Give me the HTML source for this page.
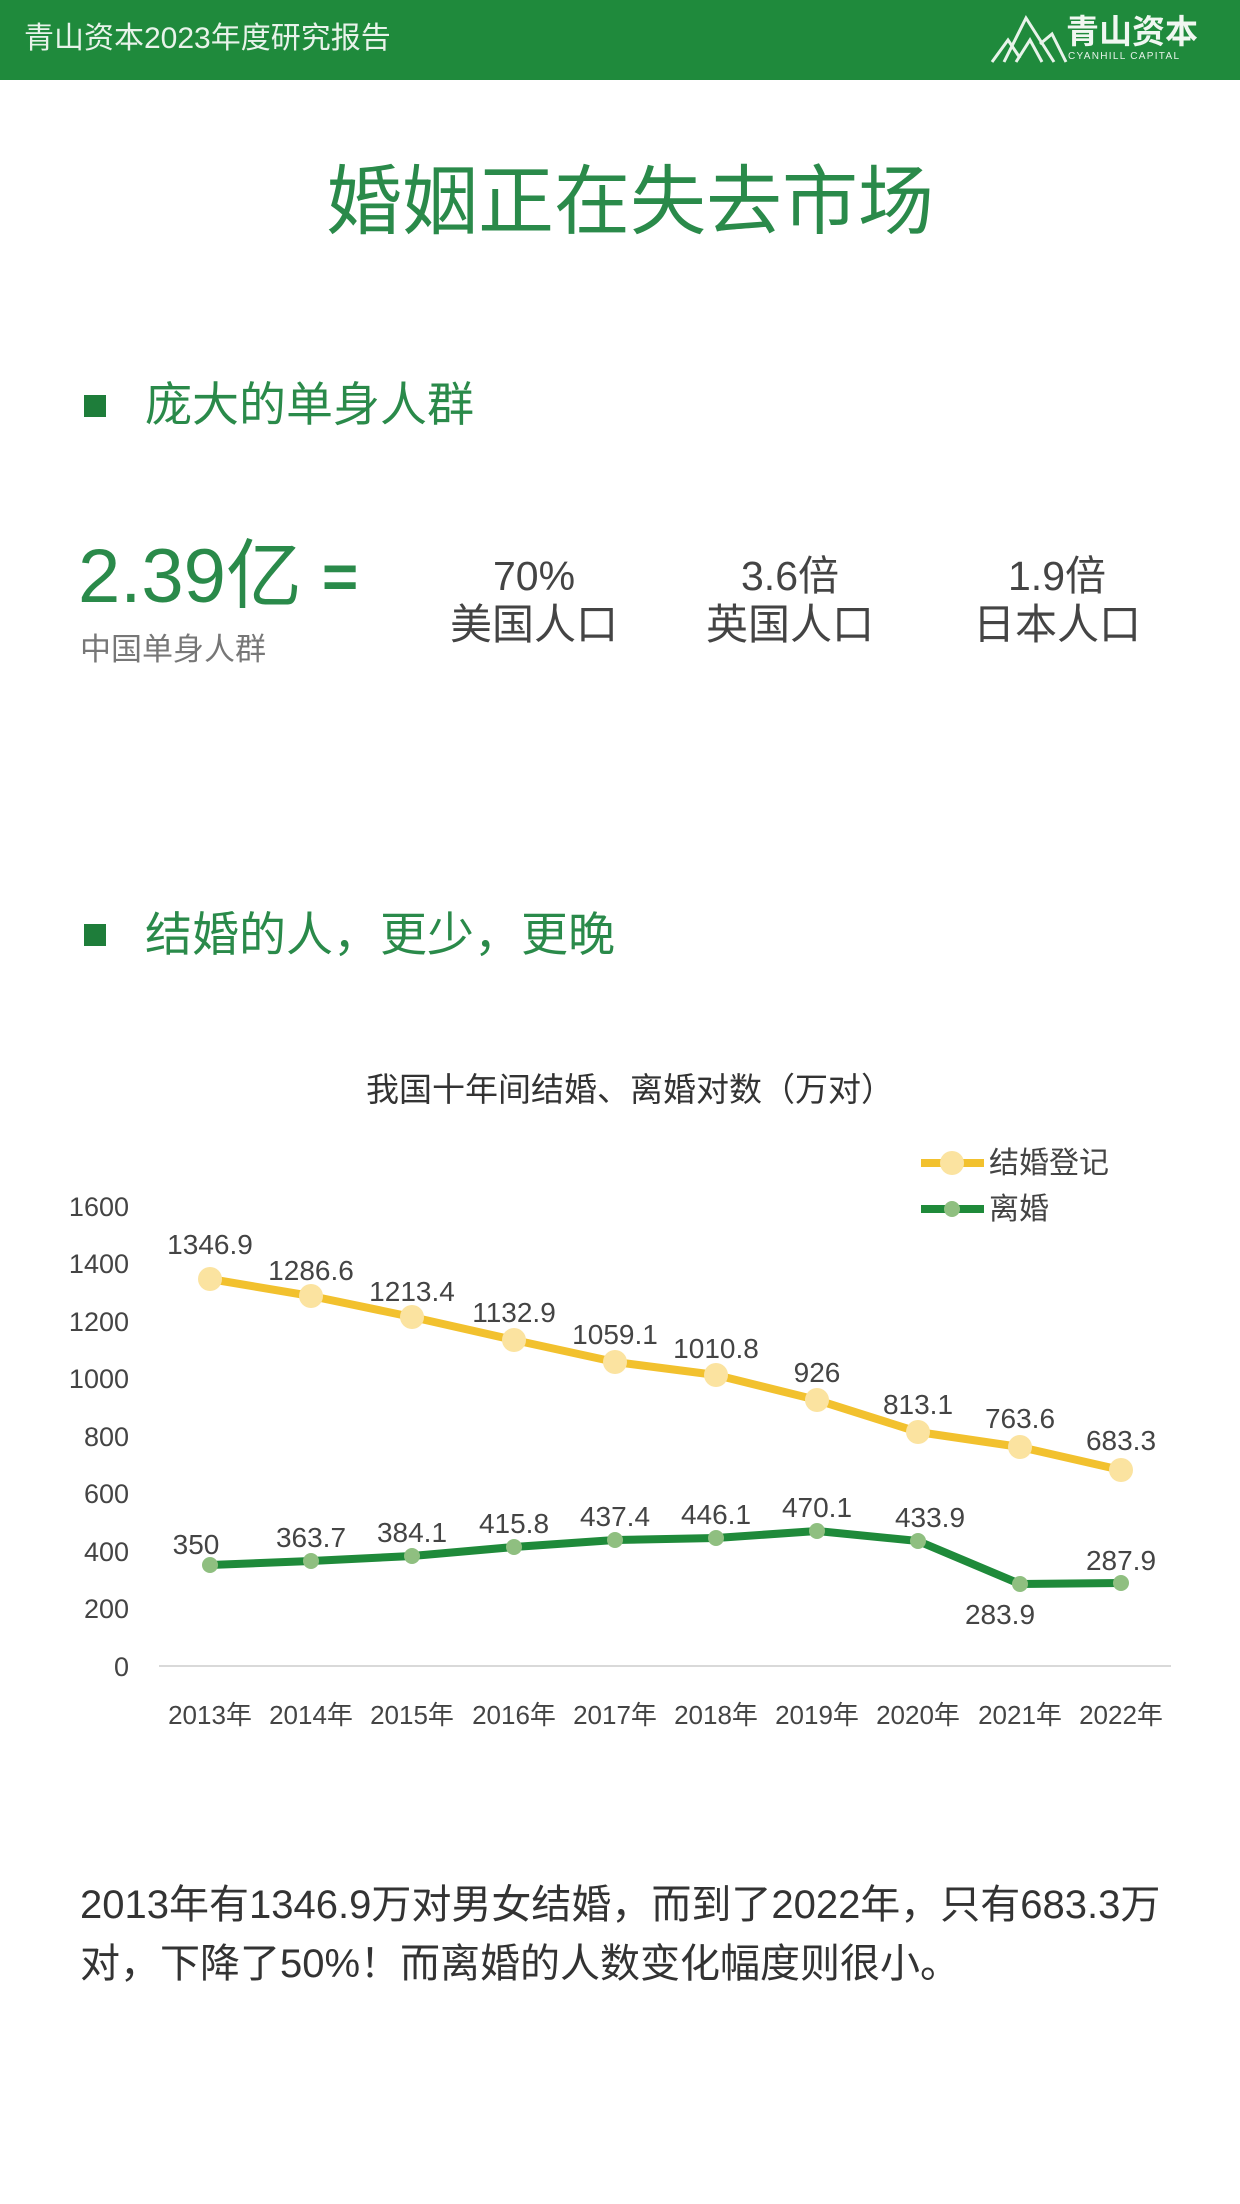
<!DOCTYPE html>
<html><head><meta charset="utf-8"><style>
body{margin:0;width:1240px;height:2204px;background:#fff;position:relative;overflow:hidden;font-family:"Liberation Sans","Noto Sans CJK SC",sans-serif;}
.a{position:absolute;white-space:nowrap;}
</style></head><body>
<div class="a" style="left:0;top:0;width:1240px;height:80px;background:#1f8a3c;"></div>
<div class="a" style="left:24px;top:20px;font-size:30px;color:#e8f3ea;line-height:38px;">青山资本2023年度研究报告</div>
<svg class="a" style="left:990px;top:14px" width="80" height="52"><g fill="none" stroke="#e8f3ea" stroke-width="3"><polyline points="2,48 18,26 30,44"/><polyline points="14,48 36,4 64,48"/><polyline points="26,48 40,26 52,48"/><polyline points="50,30 62,20 76,48"/></g></svg>
<div class="a" style="left:1066px;top:14px;font-size:33px;font-weight:bold;color:#f0f7f1;line-height:36px;">青山资本</div>
<div class="a" style="left:1068px;top:51px;font-size:10px;letter-spacing:1.3px;color:#e8f3ea;">CYANHILL CAPITAL</div>

<div class="a" style="left:0;width:1260px;text-align:center;top:158px;font-size:76px;color:#2a8a4a;line-height:90px;">婚姻正在失去市场</div>

<div class="a" style="left:84px;top:395px;width:22px;height:22px;background:#1e7d3a;"></div>
<div class="a" style="left:145px;top:378px;font-size:47px;color:#2a8a4a;line-height:54px;">庞大的单身人群</div>

<div class="a" style="left:78px;top:536px;font-size:76px;color:#2a8a4a;line-height:82px;">2.39亿</div>
<div class="a" style="left:322px;top:543px;font-size:62px;font-weight:bold;color:#2a8a4a;line-height:70px;">=</div>
<div class="a" style="left:80px;top:630px;font-size:31px;color:#777;line-height:40px;">中国单身人群</div>

<div class="a" style="left:434px;width:200px;text-align:center;top:553px;font-size:41px;color:#444;line-height:46px;">70%</div>
<div class="a" style="left:434px;width:200px;text-align:center;top:602px;font-size:42px;color:#444;line-height:46px;">美国人口</div>
<div class="a" style="left:690px;width:200px;text-align:center;top:553px;font-size:41px;color:#444;line-height:46px;">3.6倍</div>
<div class="a" style="left:690px;width:200px;text-align:center;top:602px;font-size:42px;color:#444;line-height:46px;">英国人口</div>
<div class="a" style="left:957px;width:200px;text-align:center;top:553px;font-size:41px;color:#444;line-height:46px;">1.9倍</div>
<div class="a" style="left:957px;width:200px;text-align:center;top:602px;font-size:42px;color:#444;line-height:46px;">日本人口</div>

<div class="a" style="left:84px;top:924px;width:22px;height:22px;background:#1e7d3a;"></div>
<div class="a" style="left:145px;top:908px;font-size:47px;color:#2a8a4a;line-height:54px;">结婚的人，更少，更晚</div>

<div class="a" style="left:0;width:1260px;text-align:center;top:1070px;font-size:33px;color:#333;line-height:40px;">我国十年间结婚、离婚对数（万对）</div>

<svg class="a" style="left:0;top:0" width="1240" height="2204" font-family="Liberation Sans, Noto Sans CJK SC, sans-serif">
<line x1="159" y1="1666" x2="1171" y2="1666" stroke="#d9d9d9" stroke-width="2"/>
<g font-size="27" fill="#444" text-anchor="end">
<text x="129" y="1676">0</text><text x="129" y="1618">200</text><text x="129" y="1561">400</text><text x="129" y="1503">600</text><text x="129" y="1446">800</text><text x="129" y="1388">1000</text><text x="129" y="1331">1200</text><text x="129" y="1273">1400</text><text x="129" y="1216">1600</text>
</g>
<g font-size="26" fill="#444" text-anchor="middle">
<text x="210" y="1724">2013年</text><text x="311" y="1724">2014年</text><text x="412" y="1724">2015年</text><text x="514" y="1724">2016年</text><text x="615" y="1724">2017年</text><text x="716" y="1724">2018年</text><text x="817" y="1724">2019年</text><text x="918" y="1724">2020年</text><text x="1020" y="1724">2021年</text><text x="1121" y="1724">2022年</text>
</g>
<polyline fill="none" stroke="#f2c12e" stroke-width="8" stroke-linejoin="round" points="210,1279 311,1296 412,1317 514,1340 615,1362 716,1375 817,1400 918,1432 1020,1447 1121,1470"/>
<g fill="#fbe3a0"><circle cx="210" cy="1279" r="12"/><circle cx="311" cy="1296" r="12"/><circle cx="412" cy="1317" r="12"/><circle cx="514" cy="1340" r="12"/><circle cx="615" cy="1362" r="12"/><circle cx="716" cy="1375" r="12"/><circle cx="817" cy="1400" r="12"/><circle cx="918" cy="1432" r="12"/><circle cx="1020" cy="1447" r="12"/><circle cx="1121" cy="1470" r="12"/></g>
<polyline fill="none" stroke="#1f8a3a" stroke-width="8" stroke-linejoin="round" points="210,1565 311,1561 412,1556 514,1547 615,1540 716,1538 817,1531 918,1541 1020,1584 1121,1583"/>
<g fill="#8fbf80"><circle cx="210" cy="1565" r="8"/><circle cx="311" cy="1561" r="8"/><circle cx="412" cy="1556" r="8"/><circle cx="514" cy="1547" r="8"/><circle cx="615" cy="1540" r="8"/><circle cx="716" cy="1538" r="8"/><circle cx="817" cy="1531" r="8"/><circle cx="918" cy="1541" r="8"/><circle cx="1020" cy="1584" r="8"/><circle cx="1121" cy="1583" r="8"/></g>
<g font-size="28" fill="#444" text-anchor="middle">
<text x="210" y="1254">1346.9</text><text x="311" y="1280">1286.6</text><text x="412" y="1301">1213.4</text><text x="514" y="1322">1132.9</text><text x="615" y="1344">1059.1</text><text x="716" y="1358">1010.8</text><text x="817" y="1382">926</text><text x="918" y="1414">813.1</text><text x="1020" y="1428">763.6</text><text x="1121" y="1450">683.3</text>
<text x="196" y="1554">350</text><text x="311" y="1547">363.7</text><text x="412" y="1542">384.1</text><text x="514" y="1533">415.8</text><text x="615" y="1526">437.4</text><text x="716" y="1524">446.1</text><text x="817" y="1517">470.1</text><text x="930" y="1527">433.9</text><text x="1000" y="1624">283.9</text><text x="1121" y="1570">287.9</text>
</g>
<line x1="921" y1="1163" x2="984" y2="1163" stroke="#f2c12e" stroke-width="8"/><circle cx="952" cy="1163" r="12" fill="#fbe3a0"/>
<text x="989" y="1173" font-size="30" fill="#444">结婚登记</text>
<line x1="921" y1="1209" x2="984" y2="1209" stroke="#1f8a3a" stroke-width="8"/><circle cx="952" cy="1209" r="8" fill="#8fbf80"/>
<text x="989" y="1219" font-size="30" fill="#444">离婚</text>
</svg>

<div class="a" style="left:80px;top:1876px;font-size:40px;color:#333;line-height:59px;white-space:normal;width:1150px;">2013年有1346.9万对男女结婚，而到了2022年，只有683.3万<br>对，下降了50%！而离婚的人数变化幅度则很小。</div>
</body></html>
